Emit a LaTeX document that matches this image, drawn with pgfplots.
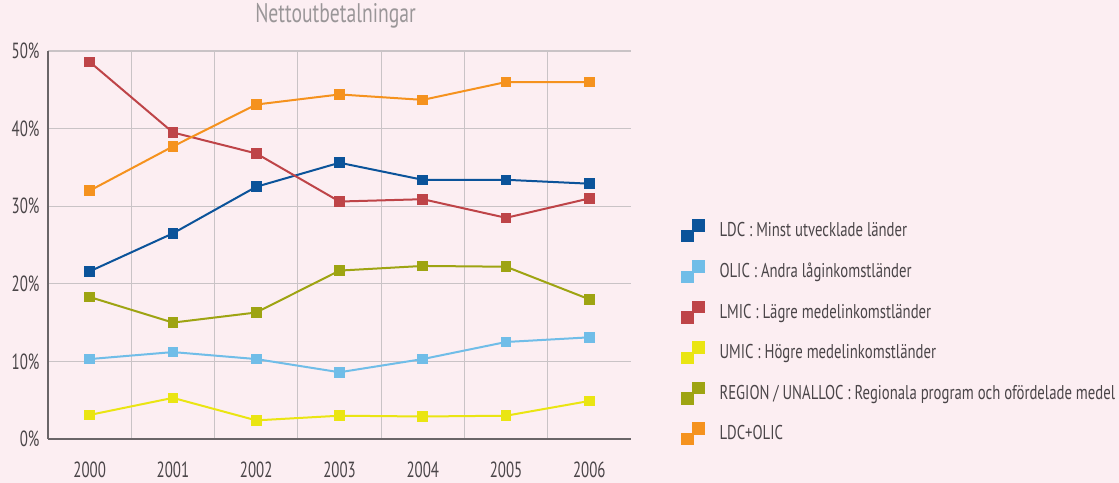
\documentclass[border=0pt]{standalone}
\usepackage{fontspec}
\setmainfont{PT Sans}[FakeStretch=0.74]
\newfontfamily\tickfont{PT Sans}[FakeStretch=0.68]
\newfontfamily\titfont{PT Sans}[FakeStretch=0.73]
\usepackage{pgfplots}
\pgfplotsset{compat=1.18}
\definecolor{bg}{HTML}{FCEEF2}
\definecolor{gridc}{HTML}{C9C3C6}
\definecolor{axisc}{HTML}{6A6568}
\definecolor{labc}{HTML}{4A4548}
\definecolor{titc}{HTML}{9A9698}
\definecolor{cLDC}{HTML}{0B539A}
\definecolor{cOLIC}{HTML}{70BDE8}
\definecolor{cLMIC}{HTML}{BE4448}
\definecolor{cUMIC}{HTML}{EAE512}
\definecolor{cREG}{HTML}{9EA412}
\definecolor{cSUM}{HTML}{F5921E}
\begin{document}
\begin{tikzpicture}[x=1bp,y=1bp]
\fill[bg] (0,0) rectangle (1119,483);
\useasboundingbox (0,0) rectangle (1119,483);
\begin{axis}[
  at={(48bp,44bp)}, anchor=south west,
  scale only axis, width=583bp, height=388bp,
  xmin=-0.5, xmax=6.5, ymin=0, ymax=50,
  clip=false,
  axis lines*=left,
  axis line style={color=axisc, line width=1.6bp},
  xtick={0,...,6}, xticklabels={2000,2001,2002,2003,2004,2005,2006},
  ytick={0,10,20,30,40,50},
  minor xtick={0.5,1.5,2.5,3.5,4.5,5.5},
  xminorgrids=true, xmajorgrids=false, ymajorgrids=true,
  major grid style={color=gridc, line width=1.1bp},
  minor grid style={color=gridc, line width=1.1bp},
  major tick length=0pt, minor tick length=0pt,
  /pgf/number format/assume math mode=true,
  tick label style={font=\tickfont\fontsize{22}{22}\selectfont, color=labc},
  yticklabel={\pgfmathprintnumber{\tick}\%},
  yticklabel style={anchor=east, xshift=-5bp},
  xticklabel style={anchor=base, yshift=-39bp},
  title={Nettoutbetalningar},
  title style={at={(0.5,1)}, anchor=base, xshift=-4bp, yshift=22.7bp, font=\titfont\fontsize{27}{27}\selectfont, color=titc},
  every axis plot/.append style={line width=2bp, mark=square*, mark size=4.3bp, mark options={solid}},
  legend image code/.code={%
    \fill[#1] (0bp,-9.5bp) rectangle (10.5bp,0.8bp);
    \fill[#1] (11bp,0.8bp) rectangle (21.5bp,11.5bp);
  },
  legend style={at={(1.0858,0.566)}, anchor=north west, draw=none, fill=none,
    inner sep=0bp, outer sep=0bp,
    font=\fontsize{20}{20}\selectfont, text=labc,
    nodes={inner sep=0bp, text height=14bp, text depth=4bp},
    row sep=17.6bp, column sep=15bp},
  legend cell align=left,
]
\addplot[color=cLDC] coordinates {(0,21.6) (1,26.5) (2,32.5) (3,35.6) (4,33.4) (5,33.4) (6,32.9)};
\addlegendentry{LDC : Minst utvecklade länder}
\addplot[color=cOLIC] coordinates {(0,10.3) (1,11.2) (2,10.3) (3,8.6) (4,10.3) (5,12.5) (6,13.1)};
\addlegendentry{OLIC : Andra låginkomstländer}
\addplot[color=cLMIC] coordinates {(0,48.6) (1,39.5) (2,36.8) (3,30.6) (4,30.9) (5,28.5) (6,31.0)};
\addlegendentry{LMIC : Lägre medelinkomstländer}
\addplot[color=cUMIC] coordinates {(0,3.1) (1,5.3) (2,2.4) (3,3.0) (4,2.9) (5,3.0) (6,4.9)};
\addlegendentry{UMIC : Högre medelinkomstländer}
\addplot[color=cREG] coordinates {(0,18.3) (1,15.0) (2,16.3) (3,21.7) (4,22.3) (5,22.2) (6,18.0)};
\addlegendentry{REGION / UNALLOC : Regionala program och ofördelade medel}
\addplot[color=cSUM] coordinates {(0,32.0) (1,37.7) (2,43.1) (3,44.4) (4,43.7) (5,46.0) (6,46.0)};
\addlegendentry{LDC+OLIC}
\end{axis}
\end{tikzpicture}
\end{document}
